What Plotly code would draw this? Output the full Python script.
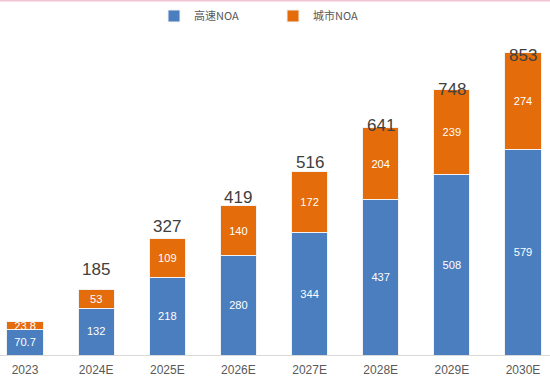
import plotly.graph_objects as go

years = ["2023", "2024E", "2025E", "2026E", "2027E", "2028E", "2029E", "2030E"]
highway_noa = [70.7, 132, 218, 280, 344, 437, 508, 579]
city_noa = [23.8, 53, 109, 140, 172, 204, 239, 274]
totals = [94.5, 185, 327, 419, 516, 641, 748, 853]
total_labels = ["94.5", "185", "327", "419", "516", "641", "748", "853"]
# pixel lift of each total label above its bar top (style)
total_lift = [16, 20, 12, 9, 9, 2, 0, -3]

BLUE = "#4A7EBF"
ORANGE = "#E46C0A"
FONT = "Liberation Sans"

fig = go.Figure()
fig.add_trace(go.Bar(
    x=years, y=highway_noa, name="高速NOA",
    marker=dict(color=BLUE, line=dict(color="#f2f2f2", width=1)),
    text=[str(v) for v in highway_noa], textposition="inside",
    insidetextanchor="middle", textangle=0,
    textfont=dict(color="white", size=13, family=FONT),
))
fig.add_trace(go.Bar(
    x=years, y=city_noa, name="城市NOA",
    marker=dict(color=ORANGE, line=dict(color="#f2f2f2", width=1)),
    text=[str(v) for v in city_noa], textposition="inside",
    insidetextanchor="middle", textangle=0,
    textfont=dict(color="white", size=13, family=FONT),
))

for x, t, lab, lift in zip(years, totals, total_labels, total_lift):
    fig.add_annotation(x=x, y=t, text=lab, showarrow=False,
                       yanchor="middle", yshift=lift,
                       font=dict(size=17, color="#404040", family=FONT))

fig.add_shape(type="line", xref="paper", yref="paper", x0=0, x1=1, y0=1, y1=1,
              line=dict(color="#F2C4D4", width=3))

fig.update_layout(
    width=550, height=378,
    margin=dict(l=0, r=0, t=0, b=23),
    barmode="stack", bargap=0.49,
    paper_bgcolor="white", plot_bgcolor="white",
    uniformtext=dict(minsize=8, mode="show"),
    font=dict(family=FONT, color="#595959"),
    legend=dict(orientation="h", x=0.28, xanchor="left", y=0.955, yanchor="middle",
                font=dict(size=11, color="#595959", family="Noto Sans CJK SC"),
                bgcolor="rgba(0,0,0,0)", itemwidth=30, entrywidth=74,
                traceorder="normal"),
    showlegend=True,
)
fig.update_xaxes(range=[-0.352, 7.38], showline=True, linecolor="#D9D9D9", linewidth=1,
                 ticks="", tickfont=dict(size=12, color="#595959", family=FONT),
                 showgrid=False, ticklabelstandoff=4)
fig.update_yaxes(range=[0, 1000], visible=False, showgrid=False)

fig.write_html("out.html", config={"displayModeBar": False},
               post_script="document.body.style.margin='0px';")
